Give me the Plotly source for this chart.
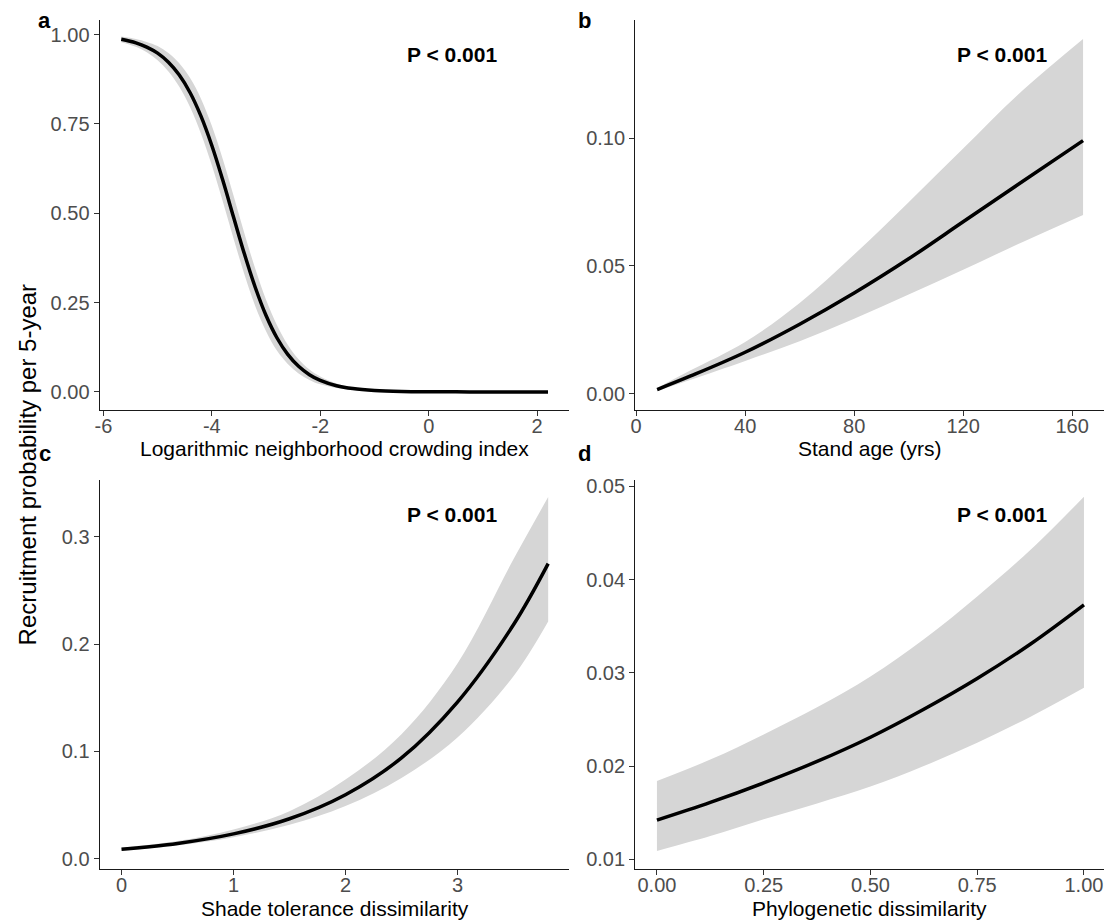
import plotly.graph_objects as go

W, H = 1111, 924
FONT = "Liberation Sans, Arial, sans-serif"

# ---------------- data ----------------
# a: logarithmic neighborhood crowding index
a_x = [-5.67, -5.4, -5.2, -5.0, -4.8, -4.6, -4.4, -4.2, -4.0, -3.8, -3.6, -3.4, -3.2, -3.0,
       -2.8, -2.6, -2.4, -2.2, -2.0, -1.7, -1.4, -1.0, -0.5, 0.0, 0.5, 1.0, 1.5, 2.2]
a_fit = [0.9867, 0.9768, 0.965, 0.948, 0.9226, 0.8868, 0.8373, 0.7717, 0.6895, 0.5934, 0.4895,
         0.3865, 0.2929, 0.2138, 0.1516, 0.1051, 0.0716, 0.0482, 0.0322, 0.0174, 0.0093, 0.0041,
         0.0014, 0.0005, 0.0002, 0.0001, 0.0, 0.0]
a_lo = [0.9787, 0.9658, 0.9505, 0.928, 0.8966, 0.8538, 0.7963, 0.7227, 0.6345, 0.5344, 0.4295,
        0.329, 0.2404, 0.1698, 0.1156, 0.0781, 0.0516, 0.0337, 0.0212, 0.0109, 0.0055, 0.0021,
        0.0009, 0.0003, 0.0001, 0.0, 0.0, 0.0]
a_hi = [0.9947, 0.9878, 0.9795, 0.968, 0.9486, 0.9198, 0.8783, 0.8207, 0.7445, 0.6524, 0.5495,
        0.444, 0.3454, 0.2578, 0.1876, 0.1321, 0.0916, 0.0627, 0.0432, 0.0239, 0.0131, 0.0061,
        0.0022, 0.0008, 0.0003, 0.0001, 0.0001, 0.0]

# b: stand age
b_x = [7.7, 20, 40, 60, 80, 100, 120, 140, 164]
b_fit = [0.0016, 0.0069, 0.0162, 0.0272, 0.0394, 0.0528, 0.0673, 0.0818, 0.0991]
b_lo = [0.0010, 0.0054, 0.0128, 0.0205, 0.0293, 0.0388, 0.0485, 0.0585, 0.0700]
b_hi = [0.0022, 0.0091, 0.0202, 0.0355, 0.0545, 0.0750, 0.0960, 0.1170, 0.1389]

# c: shade tolerance dissimilarity
c_x = [0.0, 0.5, 1.0, 1.5, 2.0, 2.5, 3.0, 3.5, 3.81]
c_fit = [0.0087, 0.0142, 0.0231, 0.0372, 0.0596, 0.0939, 0.146, 0.218, 0.275]
c_lo = [0.0074, 0.0123, 0.0200, 0.0315, 0.0490, 0.0752, 0.113, 0.170, 0.221]
c_hi = [0.0102, 0.0164, 0.0272, 0.0443, 0.0737, 0.116, 0.182, 0.279, 0.337]

# d: phylogenetic dissimilarity
d_x = [0.0, 0.125, 0.25, 0.375, 0.5, 0.625, 0.75, 0.875, 1.0]
d_fit = [0.0142, 0.0161, 0.0182, 0.0205, 0.0231, 0.0261, 0.0294, 0.0331, 0.0373]
d_lo = [0.0109, 0.0125, 0.0143, 0.0160, 0.0178, 0.0200, 0.0225, 0.0253, 0.0284]
d_hi = [0.0184, 0.0207, 0.0234, 0.0263, 0.0296, 0.0336, 0.0382, 0.0432, 0.0489]

panels = [
    ("a", a_x, a_fit, a_lo, a_hi),
    ("b", b_x, b_fit, b_lo, b_hi),
    ("c", c_x, c_fit, c_lo, c_hi),
    ("d", d_x, d_fit, d_lo, d_hi),
]

x_titles = ["Logarithmic neighborhood crowding index", "Stand age (yrs)",
            "Shade tolerance dissimilarity", "Phylogenetic dissimilarity"]
x_ticks = [[-6, -4, -2, 0, 2], [0, 40, 80, 120, 160], [0, 1, 2, 3],
           [0.0, 0.25, 0.5, 0.75, 1.0]]
x_ticktext = [["-6", "-4", "-2", "0", "2"], ["0", "40", "80", "120", "160"],
              ["0", "1", "2", "3"], ["0.00", "0.25", "0.50", "0.75", "1.00"]]
y_ticks = [[0, 0.25, 0.5, 0.75, 1.0], [0, 0.05, 0.10], [0, 0.1, 0.2, 0.3],
           [0.01, 0.02, 0.03, 0.04, 0.05]]
y_ticktext = [["0.00", "0.25", "0.50", "0.75", "1.00"], ["0.00", "0.05", "0.10"],
              ["0.0", "0.1", "0.2", "0.3"], ["0.01", "0.02", "0.03", "0.04", "0.05"]]
x_ranges = [[-6.07, 2.595], [-0.37, 171.7], [-0.196, 4.0], [-0.051, 1.047]]
y_ranges = [[-0.05, 1.041], [-0.00635, 0.1464], [-0.0099, 0.353], [0.00893, 0.0507]]
y_label = "Recruitment probability per 5-year"
p_label = "P < 0.001"

# ---------------- layout geometry (pixels) ----------------
col_px = [(95, 567), (633, 1104)]
row_px = [(16, 408), (478.5, 870)]

fig = go.Figure()
layout = dict(width=W, height=H, margin=dict(l=0, r=0, t=0, b=0),
              paper_bgcolor="white", plot_bgcolor="white", showlegend=False,
              font=dict(family=FONT))
annotations = []
RIB = "#D6D6D6"

for i, (lab, xs, fit, lo, hi) in enumerate(panels):
    n = i + 1
    xa = "x" if n == 1 else f"x{n}"
    ya = "y" if n == 1 else f"y{n}"
    r, c = divmod(i, 2)
    x0, x1 = col_px[c]
    y0, y1 = row_px[r]
    # ribbon (upper edge, then lower edge filled to it)
    fig.add_trace(go.Scatter(x=xs, y=hi, mode="lines",
                             line=dict(width=0, color=RIB, shape="spline", smoothing=1.0),
                             xaxis=xa, yaxis=ya, hoverinfo="skip"))
    fig.add_trace(go.Scatter(x=xs, y=lo, mode="lines", fill="tonexty", fillcolor=RIB,
                             line=dict(width=0, color=RIB, shape="spline", smoothing=1.0),
                             xaxis=xa, yaxis=ya, hoverinfo="skip"))
    # fitted line
    fig.add_trace(go.Scatter(x=xs, y=fit, mode="lines",
                             line=dict(color="black", width=3.5, shape="spline", smoothing=1.0),
                             xaxis=xa, yaxis=ya))
    axis_common = dict(showline=True, linecolor="#1a1a1a", linewidth=1.1, ticks="outside",
                       ticklen=5, tickwidth=1.1, tickcolor="#333333", showgrid=False,
                       zeroline=False,
                       tickfont=dict(family=FONT, size=20, color="#4D4D4D"))
    layout["xaxis" if n == 1 else f"xaxis{n}"] = dict(
        axis_common, domain=[x0 / W, x1 / W], anchor=ya, range=x_ranges[i],
        tickvals=x_ticks[i], ticktext=x_ticktext[i], ticklabelstandoff=-7)
    layout["yaxis" if n == 1 else f"yaxis{n}"] = dict(
        axis_common, domain=[1 - y1 / H, 1 - y0 / H], anchor=xa, range=y_ranges[i],
        tickvals=y_ticks[i], ticktext=y_ticktext[i])
    # x title
    annotations.append(dict(text=x_titles[i], xref="paper", yref="paper",
                            x=(x0 + x1) / 2 / W, y=1 - (y1 + 39) / H,
                            xanchor="center", yanchor="middle", showarrow=False,
                            font=dict(family=FONT, size=21, color="black")))
    # P value
    px_c = 449 if c == 0 else 1002
    annotations.append(dict(text=f"<b>{p_label}</b>", xref="paper", yref="paper",
                            x=px_c / W, y=1 - (y0 + 35) / H,
                            xanchor="center", yanchor="middle", showarrow=False,
                            font=dict(family=FONT, size=21, color="black")))

# panel letters
letter_pos = {"a": (40, 17), "b": (582.5, 17), "c": (40, 452), "d": (582.5, 452)}
for lab, (lx, ly) in letter_pos.items():
    annotations.append(dict(text=f"<b>{lab}</b>", xref="paper", yref="paper",
                            x=lx / W, y=1 - ly / H, xanchor="center", yanchor="middle",
                            showarrow=False, font=dict(family=FONT, size=22, color="black")))

annotations.append(dict(text=y_label, xref="paper", yref="paper", x=23 / W, y=1 - 463 / H,
                        xanchor="center", yanchor="middle", textangle=-90, showarrow=False,
                        font=dict(family=FONT, size=24, color="black")))

layout["annotations"] = annotations
fig.update_layout(**layout)
fig.write_html("out.html")
